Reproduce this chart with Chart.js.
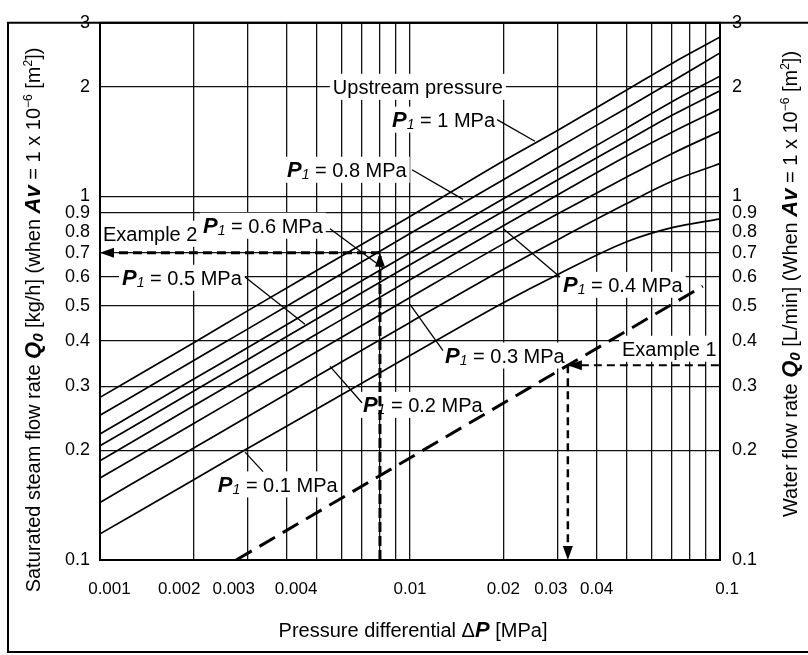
<!DOCTYPE html>
<html>
<head>
<meta charset="utf-8">
<script src="https://cdn.jsdelivr.net/npm/chart.js@4.4.0/dist/chart.umd.min.js"></script>
<style>
  html, body { margin: 0; padding: 0; background: #fff; }
</style>
</head>
<body>
<canvas id="chart" width="808" height="655"></canvas>
<script>
// Pressure differential ΔP [MPa] (x axis, log)
const dP = [0.001, 0.002, 0.003, 0.005, 0.01, 0.02, 0.03, 0.05, 0.07, 0.1];

// Saturated steam flow rate Q0 [kg/h] per upstream pressure P1
const flowP1_10 = [0.28, 0.395, 0.485, 0.625, 0.88, 1.25, 1.52, 1.96, 2.32, 2.74];
const flowP1_08 = [0.25, 0.353, 0.432, 0.558, 0.79, 1.11, 1.36, 1.75, 2.07, 2.48];
const flowP1_06 = [0.222, 0.314, 0.384, 0.496, 0.70, 0.985, 1.2, 1.54, 1.82, 2.14];
const flowP1_05 = [0.206, 0.291, 0.356, 0.46, 0.648, 0.91, 1.11, 1.42, 1.67, 1.95];
const flowP1_04 = [0.1875, 0.265, 0.324, 0.418, 0.59, 0.83, 1.01, 1.29, 1.5, 1.74];
const flowP1_03 = [0.168, 0.237, 0.29, 0.374, 0.527, 0.74, 0.895, 1.13, 1.31, 1.51];
const flowP1_02 = [0.144, 0.203, 0.248, 0.32, 0.45, 0.63, 0.76, 0.955, 1.1, 1.23];
const flowP1_01 = [0.118, 0.166, 0.203, 0.26, 0.365, 0.51, 0.61, 0.75, 0.82, 0.867];

// Water flow rate line (dashed)
const waterDp = [0.00275, 0.0323, 0.088];
const waterQ = [0.1, 0.343, 0.566];

// Worked examples
const example1 = { dp: 0.0323, q: 0.343 };
const example2 = { dp: 0.008, q: 0.7 };

// Axes
const xMin = 0.001, xMax = 0.1, yMin = 0.1, yMax = 3;
const xGrid = [0.001, 0.002, 0.003, 0.004, 0.005, 0.006, 0.007, 0.008, 0.009,
               0.01, 0.02, 0.03, 0.04, 0.05, 0.06, 0.07, 0.08, 0.09, 0.1];
const xTickLabels = [0.001, 0.002, 0.003, 0.004, 0.01, 0.02, 0.03, 0.04, 0.1];
const yGrid = [0.1, 0.2, 0.3, 0.4, 0.5, 0.6, 0.7, 0.8, 0.9, 1, 2, 3];
const yTickLabels = [0.1, 0.2, 0.3, 0.4, 0.5, 0.6, 0.7, 0.8, 0.9, 1, 2, 3];

// label nudges (spaces: + before the text, - after) so crowded labels separate
const xLabelNudge = { 0.001: 4, 0.002: -6, 0.003: -6, 0.004: 4, 0.03: -3, 0.1: 3 };

const FONT = '"Liberation Sans", Arial, Helvetica, sans-serif';
const NARROW = '"Liberation Sans Narrow", "Arial Narrow", ' + FONT;

const pts = (xs, ys) => xs.map((x, i) => ({ x: x, y: ys[i] }));
const curve = (arr) => ({
  data: pts(dP, arr), borderColor: '#000', borderWidth: 1.7,
  pointRadius: 0, fill: false, cubicInterpolationMode: 'monotone'
});
const dashed = (data, w, dash) => ({
  data: data, borderColor: '#000', borderWidth: w, borderDash: dash,
  pointRadius: 0, fill: false, tension: 0
});

function xLabel(v) {
  if (!xTickLabels.includes(v)) return '';
  const n = xLabelNudge[v] || 0;
  const pad = ' '.repeat(Math.abs(n));
  return n > 0 ? pad + String(v) : String(v) + pad;
}

// rich text helpers
function fontOf(st, size) {
  if (st === 'bi') return 'italic bold ' + Math.round(size * 1.12) + 'px ' + FONT;
  if (st === 'sub') return 'italic ' + Math.round(size * 0.72) + 'px ' + FONT;
  if (st === 'subbi') return 'italic bold ' + Math.round(size * 0.75) + 'px ' + FONT;
  if (st === 'sup') return Math.round(size * 0.62) + 'px ' + FONT;
  return size + 'px ' + FONT;
}
function shiftOf(st, size) {
  if (st === 'sup') return -size * 0.42;
  if (st === 'sub' || st === 'subbi') return size * 0.12;
  return 0;
}
function richWidth(ctx, segs, size) {
  let w = 0;
  for (const [t, st] of segs) { ctx.font = fontOf(st, size); w += ctx.measureText(t).width; }
  return w;
}
function drawRich(ctx, segs, x, cy, size) {
  let cx = x;
  const base = cy + size * 0.36;
  ctx.textAlign = 'left';
  ctx.textBaseline = 'alphabetic';
  for (const [t, st] of segs) {
    ctx.font = fontOf(st, size);
    ctx.fillText(t, cx, base + shiftOf(st, size));
    cx += ctx.measureText(t).width;
  }
}
const p1 = (v) => [['P', 'bi'], ['1', 'sub'], [' = ' + v + ' MPa', 'n']];

// labels inside the plot, placed in data coordinates
const notes = [
  { segs: [['Upstream pressure', 'n']], x: 0.0106, y: 2.0, align: 'center' },
  { segs: p1('1'), x: 0.00875, y: 1.625, leader: [[0.01909, 1.625], [0.0253, 1.417]] },
  { segs: p1('0.8'), x: 0.00401, y: 1.183, leader: [[0.01015, 1.183], [0.01483, 0.981]] },
  { segs: p1('0.6'), x: 0.00215, y: 0.83, leader: [[0.00552, 0.814], [0.00818, 0.635]] },
  { segs: [['Example 2', 'n']], x: 0.001022, y: 0.789 },
  { segs: p1('0.5'), x: 0.001178, y: 0.597, leader: [[0.002936, 0.6], [0.004584, 0.445]] },
  { segs: p1('0.4'), x: 0.03115, y: 0.571, leader: [[0.03047, 0.6], [0.02, 0.814]] },
  { segs: p1('0.3'), x: 0.01297, y: 0.365, leader: [[0.01278, 0.3763], [0.01, 0.5043]] },
  { segs: p1('0.2'), x: 0.00705, y: 0.267, leader: [[0.007, 0.2707], [0.00552, 0.3406]] },
  { segs: p1('0.1'), x: 0.0024, y: 0.1614, leader: [[0.003356, 0.175], [0.002936, 0.198]] },
  { segs: [['Example 1', 'n']], x: 0.0483, y: 0.381 }
];
const NOTE_SIZE = 20;

function noteBox(chart, n) {
  const ctx = chart.ctx;
  const w = richWidth(ctx, n.segs, NOTE_SIZE);
  let x = chart.scales.x.getPixelForValue(n.x);
  if (n.align === 'center') x -= w / 2;
  return { x: x, cy: chart.scales.y.getPixelForValue(n.y), w: w };
}

function arrow(ctx, x, y, dir) {
  const L = 14, H = 5;
  ctx.beginPath();
  ctx.moveTo(x, y);
  if (dir === 'left') { ctx.lineTo(x + L, y - H); ctx.lineTo(x + L, y + H); }
  if (dir === 'up') { ctx.lineTo(x - H, y + L); ctx.lineTo(x + H, y + L); }
  if (dir === 'down') { ctx.lineTo(x - H, y - L); ctx.lineTo(x + H, y - L); }
  ctx.closePath();
  ctx.fill();
}

const annot = {
  id: 'annot',
  beforeDatasetsDraw(chart) {
    const ctx = chart.ctx;
    ctx.save();
    ctx.fillStyle = '#fff';
    for (const n of notes) {
      const b = noteBox(chart, n);
      ctx.fillRect(b.x - 3, b.cy - 13, b.w + 6, 26);
    }
    ctx.restore();
  },
  afterDatasetsDraw(chart) {
    const ctx = chart.ctx;
    const xs = chart.scales.x, ys = chart.scales.y;
    const a = chart.chartArea;
    ctx.save();
    ctx.fillStyle = '#000';
    ctx.strokeStyle = '#000';

    // notes and leaders
    for (const n of notes) {
      const b = noteBox(chart, n);
      drawRich(ctx, n.segs, b.x, b.cy, NOTE_SIZE);
      if (n.leader) {
        ctx.lineWidth = 1.3;
        ctx.beginPath();
        ctx.moveTo(xs.getPixelForValue(n.leader[0][0]), ys.getPixelForValue(n.leader[0][1]));
        ctx.lineTo(xs.getPixelForValue(n.leader[1][0]), ys.getPixelForValue(n.leader[1][1]));
        ctx.stroke();
      }
    }

    // arrow heads
    arrow(ctx, xs.getPixelForValue(xMin), ys.getPixelForValue(example2.q), 'left');
    arrow(ctx, xs.getPixelForValue(example2.dp), ys.getPixelForValue(example2.q), 'up');
    arrow(ctx, xs.getPixelForValue(example1.dp), ys.getPixelForValue(example1.q), 'left');
    arrow(ctx, xs.getPixelForValue(example1.dp), ys.getPixelForValue(yMin), 'down');

    // plot frame
    ctx.lineWidth = 2;
    ctx.strokeRect(a.left, a.top, a.right - a.left, a.bottom - a.top);

    // outer frame
    ctx.beginPath();
    ctx.moveTo(808, a.top); ctx.lineTo(8, a.top); ctx.lineTo(8, 652); ctx.lineTo(808, 652);
    ctx.stroke();

    // axis titles
    const leftTitle = [['Saturated steam flow rate ', 'n'], ['Q', 'bi'], ['0', 'subbi'],
      [' [kg/h] (when ', 'n'], ['Av', 'bi'], [' = 1 x 10', 'n'], ['\u22126', 'sup'],
      [' [m', 'n'], ['2', 'sup'], ['])', 'n']];
    const rightTitle = [['Water flow rate ', 'n'], ['Q', 'bi'], ['0', 'subbi'],
      [' [L/min] (When ', 'n'], ['Av', 'bi'], [' = 1 x 10', 'n'], ['\u22126', 'sup'],
      [' [m', 'n'], ['2', 'sup'], ['])', 'n']];
    const bottomTitle = [['Pressure differential \u0394', 'n'], ['P', 'bi'], [' [MPa]', 'n']];
    const TS = 20;

    ctx.save();
    ctx.translate(33, 320);
    ctx.rotate(-Math.PI / 2);
    drawRich(ctx, leftTitle, -richWidth(ctx, leftTitle, TS) / 2, 0, TS);
    ctx.restore();

    ctx.save();
    ctx.translate(790, 284);
    ctx.rotate(-Math.PI / 2);
    drawRich(ctx, rightTitle, -richWidth(ctx, rightTitle, TS) / 2, 0, TS);
    ctx.restore();

    drawRich(ctx, bottomTitle, 413 - richWidth(ctx, bottomTitle, TS) / 2, 630, TS);
    ctx.restore();
  }
};

new Chart(document.getElementById('chart').getContext('2d'), {
  type: 'line',
  data: {
    datasets: [
      curve(flowP1_10), curve(flowP1_08), curve(flowP1_06), curve(flowP1_05),
      curve(flowP1_04), curve(flowP1_03), curve(flowP1_02), curve(flowP1_01),
      dashed(pts(waterDp, waterQ), 3, [18, 9]),
      dashed([{ x: example1.dp, y: example1.q }, { x: xMax, y: example1.q }], 2, [8, 5]),
      dashed([{ x: example1.dp, y: example1.q }, { x: example1.dp, y: yMin }], 2.5, [8, 5]),
      dashed([{ x: example2.dp, y: example2.q }, { x: xMin, y: example2.q }], 3, [9, 5]),
      dashed([{ x: example2.dp, y: yMin }, { x: example2.dp, y: example2.q }], 3, [10, 4])
    ]
  },
  options: {
    responsive: false,
    animation: false,
    devicePixelRatio: 1,
    layout: { padding: { top: 12, left: 0, right: 0, bottom: 0 } },
    plugins: { legend: { display: false }, tooltip: { enabled: false } },
    scales: {
      x: {
        type: 'logarithmic', min: xMin, max: xMax, position: 'bottom',
        afterBuildTicks: s => { s.ticks = xGrid.map(v => ({ value: v })); },
        afterFit: s => { s.height = 95; },
        grid: { color: '#111', lineWidth: 1.3, drawTicks: false },
        border: { color: '#000', width: 2 },
        ticks: {
          autoSkip: false, maxRotation: 0, padding: 19, color: '#000',
          font: { family: NARROW, size: 17 },
          callback: v => xLabel(v)
        }
      },
      y: {
        type: 'logarithmic', min: yMin, max: yMax, position: 'left',
        afterBuildTicks: s => { s.ticks = yGrid.map(v => ({ value: v })); },
        afterFit: s => { s.width = 100; },
        grid: { color: '#111', lineWidth: 1.3, drawTicks: false },
        border: { color: '#000', width: 2 },
        ticks: {
          autoSkip: false, padding: 10, color: '#000',
          font: { family: FONT, size: 18 },
          callback: v => yTickLabels.includes(v) ? String(v) : ''
        }
      },
      y2: {
        type: 'logarithmic', min: yMin, max: yMax, position: 'right',
        afterBuildTicks: s => { s.ticks = yGrid.map(v => ({ value: v })); },
        afterFit: s => { s.width = 88; },
        grid: { display: false, drawTicks: false },
        border: { display: false },
        ticks: {
          autoSkip: false, padding: 12, color: '#000',
          font: { family: FONT, size: 18 },
          callback: v => yTickLabels.includes(v) ? String(v) : ''
        }
      }
    }
  },
  plugins: [annot]
});
</script>
</body>
</html>
